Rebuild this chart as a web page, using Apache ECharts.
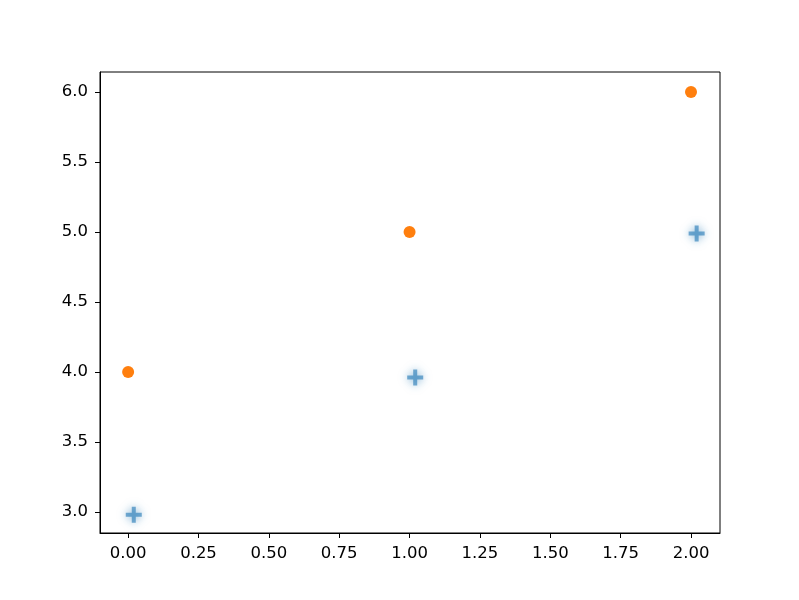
<!DOCTYPE html>
<html>
<head>
<meta charset="utf-8">
<script src="https://cdn.jsdelivr.net/npm/echarts@6/dist/echarts.min.js"></script>
<style>
  html, body { margin: 0; padding: 0; background: #fff; }
  #chart { width: 799px; height: 600px; }
</style>
</head>
<body>
<div id="chart"></div>
<script>
// data
const crossPoints = [[0.02, 2.98], [1.02, 3.96], [2.02, 4.99]];
const dotPoints = [[0, 4], [1, 5], [2, 6]];
const xTicks = [0, 0.25, 0.5, 0.75, 1, 1.25, 1.5, 1.75, 2];
const yTicks = [3, 3.5, 4, 4.5, 5, 5.5, 6];

const plus = 'path://M3,0 L5,0 L5,3 L8,3 L8,5 L5,5 L5,8 L3,8 L3,5 L0,5 L0,3 L3,3 Z';

const labelStyle = {
  color: '#000',
  fontFamily: 'DejaVu Sans',
  fontSize: 16.5
};

let option = {
  animation: false,
  backgroundColor: '#fff',
  grid: {
    left: 100,
    right: 79,
    top: 72,
    bottom: 67,
    show: true,
    borderColor: '#000',
    borderWidth: 1
  },
  xAxis: {
    type: 'value',
    min: -0.1,
    max: 2.103,
    splitLine: { show: false },
    axisLine: { show: true, onZero: false, lineStyle: { color: '#000' } },
    axisTick: { show: true, length: 5, lineStyle: { color: '#000' }, customValues: xTicks },
    axisLabel: Object.assign({
      margin: 12,
      customValues: xTicks,
      formatter: v => v.toFixed(2)
    }, labelStyle)
  },
  yAxis: {
    type: 'value',
    min: 2.85,
    max: 6.143,
    splitLine: { show: false },
    axisLine: { show: true, onZero: false, lineStyle: { color: '#000' } },
    axisTick: { show: true, length: 5, lineStyle: { color: '#000' }, customValues: yTicks },
    axisLabel: Object.assign({
      margin: 12,
      customValues: yTicks,
      formatter: v => v.toFixed(1)
    }, labelStyle)
  },
  series: [
    {
      type: 'scatter',
      data: crossPoints,
      symbol: plus,
      symbolSize: 16,
      itemStyle: {
        color: '#1f77b4',
        opacity: 0.6,
        shadowBlur: 9,
        shadowColor: 'rgba(31,119,180,0.9)'
      }
    },
    {
      type: 'scatter',
      data: dotPoints,
      symbol: 'circle',
      symbolSize: 12,
      itemStyle: { color: '#ff7f0e', opacity: 1 }
    }
  ]
};

echarts.init(document.getElementById('chart')).setOption(option);
</script>
</body>
</html>
